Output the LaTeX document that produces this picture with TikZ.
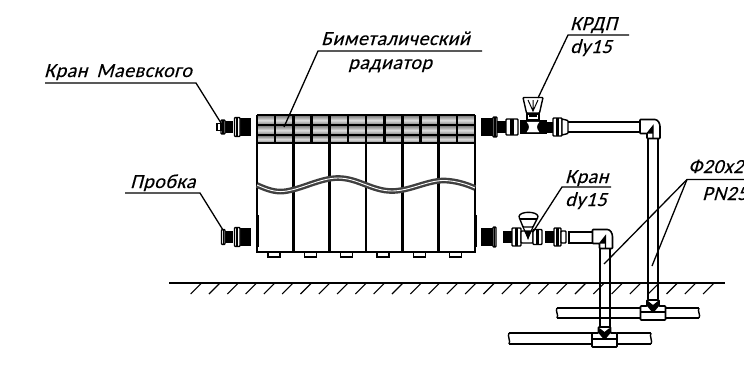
\documentclass[tikz,border=0pt]{standalone}
\usepackage{fontspec}
\newfontfamily\cadfont[FakeSlant=0.27,FakeBold=0.12,LetterSpace=2.5]{Carlito}
\usetikzlibrary{calc,positioning}
\tikzstyle{label} = [anchor=base west, inner sep=0pt, font=\cadfont\fontsize{20}{22}\selectfont]
\tikzstyle{leader} = [line width=1.3pt]
\tikzstyle{pipe} = [line width=1.4pt]
\tikzstyle{thick line} = [line width=1.5pt]
\tikzstyle{solid part} = [fill=black, draw=black, line width=.5pt]
\tikzstyle{hollow part} = [fill=white, draw=black, line width=1.4pt, rounded corners=.8pt]

% nut with a collar: #1 left, #2 right, #3 centre, #4 half height
\newcommand{\nutpart}[4]{
\draw[hollow part] (#1,#3-#4) rectangle (#2,#3+#4);
\fill (#1+.3*#2-.3*#1,#3-#4) rectangle (#1+.7*#2-.7*#1,#3+#4);
}
\newcommand{\blackpart}[4]{
\fill[solid part] (#1,#3-#4) rectangle (#2,#3+#4);
}
% tee with the pipe coming down from above: #1 centre, #2 top
\newcommand{\teepart}[2]{
\draw[hollow part, line width=1.7pt] (#1-6,#2) -- (#1+6,#2) -- (#1+6,#2+6) -- (#1+12.5,#2+6) -- (#1+12.5,#2+20) -- (#1-12.5,#2+20) -- (#1-12.5,#2+6) -- (#1-6,#2+6) -- cycle;
\draw[pipe] (#1-12.5,#2+12) -- (#1+12.5,#2+12);
\fill (#1-5,#2+1) -- (#1,#2+5) -- (#1+5,#2+1) -- (#1+6,#2+6) -- (#1+1,#2+12) -- (#1-1,#2+12) -- (#1-6,#2+6) -- cycle;
}
% broken end of a branch
\newcommand{\breakpart}[3]{
\draw[pipe] (#1,#2) .. controls (#1-2,#2+3) and (#1+2,#3-3) .. (#1,#3);
}
% elbow: #1 left, #2 top
\newcommand{\elbowpart}[2]{
\draw[hollow part, line width=1.6pt] (#1,#2) -- (#1+14,#2) .. controls (#1+18,#2) and (#1+20,#2+4) .. (#1+20,#2+8) -- (#1+20,#2+19) -- (#1+7,#2+19) -- (#1+7,#2+14) -- (#1,#2+14) -- cycle;
\draw[line width=1.2pt] (#1+7,#2+14) -- (#1+13,#2+6.5) -- (#1+13,#2+19);
\fill (#1+7,#2+14) -- (#1+13,#2+6.5) -- (#1+13,#2+14) -- cycle;
}

\begin{document}
\begin{tikzpicture}[x=1pt,y=-1pt]
\useasboundingbox (0,0) rectangle (744,365);

% radiator header
\foreach \i in {0,...,11}{
\foreach \y/\h in {116/8.5,126/8.5,136/6.5}{
\shade[top color=gray!95, bottom color=gray!95, middle color=gray!25] (257+\i*18.18,\y) rectangle ++(18.18,\h);
}
}
\draw[thick line] (257,115) -- (475,115);
\draw[line width=2.2pt] (257,125) -- (475,125) (257,135) -- (475,135);
\draw[line width=1.8pt] (257,143) -- (475,143);
\foreach \i in {1,3,5,7,9,11}{
\draw[line width=2.6pt] (257+\i*18.18,115) -- (257+\i*18.18,143);
}

% sections, wave and feet
\draw[thick line] (257,115) -- (257,252) -- (475,252) -- (475,115);
\foreach \i in {1,...,5}{
\draw[line width=2.8pt] (257+\i*36.36,115) -- (257+\i*36.36,252);
}
\draw[line width=3pt] (257,215) -- (257,247) (475,215) -- (475,247);
\draw[line width=2.4pt, black!75, double=white, double distance=.9pt]
(257,185) .. controls (268,190) and (275,192) .. (283,191.5)
.. controls (300,190) and (320,178) .. (338,178)
.. controls (358,178) and (372,191) .. (392,191)
.. controls (410,191) and (428,180) .. (445,180.5)
.. controls (456,181) and (466,184) .. (475,188);
\foreach \i in {0,...,5}{
\draw[line width=1.2pt] (268+\i*36.36,252) rectangle ++(12,5);
}

% left side
\foreach \c in {127,237}{
\blackpart{240}{250}{\c}{8.5}
\nutpart{234.5}{240}{\c}{9.5}
\blackpart{225}{232}{\c}{5.5}
}
\nutpart{221}{225}{127}{7}
\draw[line width=1.3pt] (221,123.5) rectangle (217,130.5);
\nutpart{221.5}{225}{237}{7.5}

% right side, upper
\blackpart{481}{493}{127}{8.5}
\nutpart{493}{497}{127}{10}
\blackpart{497}{506}{127}{5.5}
\nutpart{506}{518}{127}{8}
\blackpart{520}{546}{127}{6.5}
\draw[fill=white, draw=white] (527,122) -- (539,122) .. controls (536,125) and (536,129) .. (539,132) -- (527,132) .. controls (530,129) and (530,125) .. (527,122) -- cycle;
\blackpart{546}{553}{127}{5}
\nutpart{553}{562}{127}{9}
\draw[hollow part] (562,119) -- (568,120.5) -- (568,133.5) -- (562,135) -- cycle;
\draw[hollow part] (523,97.5) -- (543,97.5) -- (539.5,113) -- (526.5,113) -- cycle;
\draw[line width=1pt] (528,100) -- (533,111) -- (538,100) (533,100) -- (533,111);
\draw[pipe] (527,114) rectangle (539,120);
\fill (529,115) rectangle (537,117);

% right side, lower
\blackpart{481}{493}{237}{8.5}
\nutpart{493}{496}{237}{10}
\blackpart{503}{512}{237}{5.5}
\nutpart{512}{521}{237}{9}
\draw[hollow part] (521,231) rectangle (533,243);
\nutpart{533}{542}{237}{7.5}
\draw[hollow part] (519,217) .. controls (520,211) and (537,211) .. (538,217) -- (533,227) -- (523,227) -- cycle;
\draw[pipe] (520,219) -- (537,219);
\draw[line width=1.2pt] (523,227) -- (528,238) -- (533,227);
\fill (525,231) -- (531,231) -- (528,240) -- cycle;
\blackpart{545}{554}{237}{5.5}
\nutpart{554}{561}{237}{9}
\draw[hollow part] (561,231) rectangle (566,243);

% pipes
\draw[pipe] (568,122) -- (640,122) (568,132) -- (640,132);
\draw[pipe] (648,138) -- (648,299) (658,138) -- (658,299);
\draw[pipe] (569,232) -- (593,232) -- (593,243) -- (569,243) -- cycle;
\draw[pipe] (600,248) -- (600,327) (610,248) -- (610,327);
\draw[pipe] (557,308) -- (640,308) (557,318) -- (640,318) (665,308) -- (699,308) (665,318) -- (699,318);
\draw[pipe] (509,333) -- (593,333) (509,344) -- (593,344) (617,333) -- (651,333) (617,344) -- (651,344);
\breakpart{557}{308}{318}
\breakpart{699}{308}{318}
\breakpart{509}{333}{344}
\breakpart{651}{333}{344}

% elbows
\elbowpart{640}{119.5}
\elbowpart{592.5}{229.5}

% tees
\teepart{653}{300}
\teepart{604.5}{327}

% floor
\draw[thick line] (169,283) -- (725,283);
\foreach \i in {0,...,28}{
\draw[line width=1.1pt] (201.7+\i*18.3,283) -- (190.7+\i*18.3,294);
}

% labels
\node (maevsky)[label] at (44,77) {Кран\hspace{9pt}Маевского};
\coordinate (maevsky shelf a) at (45,83);
\coordinate (maevsky shelf b) at (196,83);
\coordinate (maevsky tip) at (221,123);
\draw[leader] (maevsky shelf a) -- (maevsky shelf b) -- (maevsky tip);

\node (probka)[label] at (130,188) {Пробка};
\coordinate (probka shelf a) at (125,193);
\coordinate (probka shelf b) at (200,193);
\coordinate (probka tip) at (223,230);
\draw[leader] (probka shelf a) -- (probka shelf b) -- (probka tip);

\node (bimetal)[label] at (321,45) {Биметалический};
\node (radiator)[label] at (348,69) {радиатор};
\coordinate (bimetal shelf a) at (482,51);
\coordinate (bimetal shelf b) at (318,51);
\coordinate (bimetal tip) at (284,127);
\draw[leader] (bimetal shelf a) -- (bimetal shelf b) -- (bimetal tip);

\node (krdp)[label] at (570,30) {КРДП};
\node (krdp size)[label] at (570,53) {dy15};
\coordinate (krdp shelf a) at (629,35);
\coordinate (krdp shelf b) at (568,35);
\coordinate (krdp tip) at (538,98);
\draw[leader] (krdp shelf a) -- (krdp shelf b) -- (krdp tip);

\node (kran)[label] at (565,183) {Кран};
\node (kran size)[label] at (565,206) {dy15};
\coordinate (kran shelf a) at (611,187);
\coordinate (kran shelf b) at (562,187);
\coordinate (kran tip) at (533,232);
\draw[leader] (kran shelf a) -- (kran shelf b) -- (kran tip);

\node (tube)[label] at (688,173) {Ф20x2};
\node (tube pressure)[label] at (702,200) {PN25};
\coordinate (tube shelf a) at (744,179.5);
\coordinate (tube shelf b) at (687,179.5);
\coordinate (tube tip a) at (604,264);
\coordinate (tube tip b) at (652,266);
\draw[leader] (tube shelf a) -- (tube shelf b) -- (tube tip a);
\draw[leader] (tube shelf b) -- (tube tip b);

\end{tikzpicture}
\end{document}
